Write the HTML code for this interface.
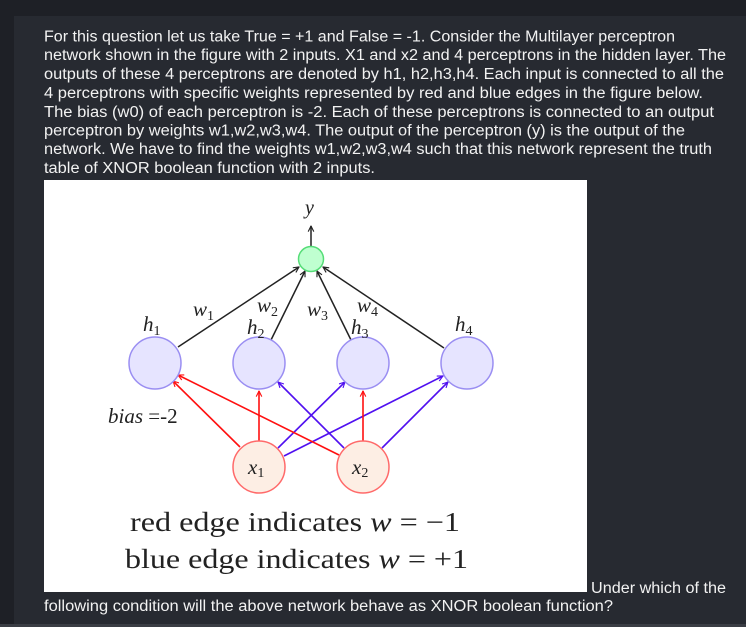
<!DOCTYPE html>
<html><head><meta charset="utf-8"><style>
html,body{margin:0;padding:0;background:#1e2026;}
svg{display:block}
.t{font-family:"Liberation Sans",sans-serif;font-size:15.5px;fill:#f2f2f2;}
.m{font-family:"Liberation Serif",serif;font-style:italic;fill:#222;}
.r{font-family:"Liberation Serif",serif;fill:#222;}
</style></head><body>
<svg width="746" height="627" viewBox="0 0 746 627" xmlns="http://www.w3.org/2000/svg">
<defs>
<marker id="ak" viewBox="0 0 10 10" refX="9" refY="5" markerWidth="7" markerHeight="7" orient="auto" markerUnits="userSpaceOnUse"><path d="M1,1 L9,5 L1,9" fill="none" stroke="#222" stroke-width="1.6"/></marker>
<marker id="ar" viewBox="0 0 10 10" refX="9" refY="5" markerWidth="7" markerHeight="7" orient="auto" markerUnits="userSpaceOnUse"><path d="M1,1 L9,5 L1,9" fill="none" stroke="#ff1010" stroke-width="1.6"/></marker>
<marker id="ab" viewBox="0 0 10 10" refX="9" refY="5" markerWidth="7" markerHeight="7" orient="auto" markerUnits="userSpaceOnUse"><path d="M1,1 L9,5 L1,9" fill="none" stroke="#5010f0" stroke-width="1.6"/></marker>
</defs>
<rect x="0" y="0" width="746" height="627" fill="#1e2026"/>
<rect x="14" y="16" width="732" height="608" fill="#272a31"/>
<rect x="0" y="624" width="746" height="3" fill="#3a3d44"/>
<g class="t">
<text x="44" y="41.5" textLength="631" lengthAdjust="spacingAndGlyphs">For this question let us take True = +1 and False = -1. Consider the Multilayer perceptron</text>
<text x="44" y="60" textLength="682" lengthAdjust="spacingAndGlyphs">network shown in the figure with 2 inputs. X1 and x2 and 4 perceptrons in the hidden layer. The</text>
<text x="44" y="79" textLength="680" lengthAdjust="spacingAndGlyphs">outputs of these 4 perceptrons are denoted by h1, h2,h3,h4. Each input is connected to all the</text>
<text x="44" y="98" textLength="659" lengthAdjust="spacingAndGlyphs">4 perceptrons with specific weights represented by red and blue edges in the figure below.</text>
<text x="44" y="117" textLength="670" lengthAdjust="spacingAndGlyphs">The bias (w0) of each perceptron is -2. Each of these perceptrons is connected to an output</text>
<text x="44" y="135.5" textLength="641" lengthAdjust="spacingAndGlyphs">perceptron by weights w1,w2,w3,w4. The output of the perceptron (y) is the output of the</text>
<text x="44" y="154" textLength="668" lengthAdjust="spacingAndGlyphs">network. We have to find the weights w1,w2,w3,w4 such that this network represent the truth</text>
<text x="44" y="173" textLength="331" lengthAdjust="spacingAndGlyphs">table of XNOR boolean function with 2 inputs.</text>
<text x="591" y="593" textLength="135" lengthAdjust="spacingAndGlyphs">Under which of the</text>
<text x="44" y="611" textLength="569" lengthAdjust="spacingAndGlyphs">following condition will the above network behave as XNOR boolean function?</text>
</g>
<rect x="44" y="180" width="543" height="412" fill="#fff"/>
<line x1="311" y1="246" x2="311" y2="226" stroke="#222" stroke-width="1.5" marker-end="url(#ak)"/>
<text class="m" x="305" y="214" font-size="20">y</text>
<g stroke="#222" stroke-width="1.5" fill="none">
<line x1="178" y1="347" x2="299" y2="267" marker-end="url(#ak)"/>
<line x1="271" y1="340" x2="305" y2="271" marker-end="url(#ak)"/>
<line x1="351" y1="340" x2="317" y2="271" marker-end="url(#ak)"/>
<line x1="444" y1="348" x2="323" y2="267" marker-end="url(#ak)"/>
</g>
<circle cx="311" cy="259" r="12.5" fill="#bfffd0" stroke="#55dd77" stroke-width="1.5"/>
<g stroke-width="1.6" fill="none">
<line x1="240" y1="447" x2="173" y2="381" stroke="#ff1010" marker-end="url(#ar)"/>
<line x1="259" y1="441" x2="259" y2="391" stroke="#ff1010" marker-end="url(#ar)"/>
<line x1="278" y1="448" x2="345" y2="382" stroke="#5010f0" marker-end="url(#ab)"/>
<line x1="284" y1="456" x2="443" y2="376" stroke="#5010f0" marker-end="url(#ab)"/>
<line x1="339" y1="455" x2="178" y2="375" stroke="#ff1010" marker-end="url(#ar)"/>
<line x1="344" y1="448" x2="278" y2="382" stroke="#5010f0" marker-end="url(#ab)"/>
<line x1="363" y1="441" x2="363" y2="391" stroke="#ff1010" marker-end="url(#ar)"/>
<line x1="382" y1="448" x2="448" y2="382" stroke="#5010f0" marker-end="url(#ab)"/>
</g>
<g fill="#e6e4ff" stroke="#9a8ef2" stroke-width="1.5">
<circle cx="155" cy="363" r="26"/>
<circle cx="259" cy="363" r="26"/>
<circle cx="363" cy="363" r="26"/>
<circle cx="467" cy="363" r="26"/>
</g>
<g fill="#fdeee4" stroke="#ff6a6a" stroke-width="1.5">
<circle cx="259" cy="467" r="26"/>
<circle cx="363" cy="467" r="26"/>
</g>
<g class="m" font-size="21">
<text x="248" y="474">x<tspan font-size="14" font-style="normal" dy="3">1</tspan></text>
<text x="352" y="474">x<tspan font-size="14" font-style="normal" dy="3">2</tspan></text>
<text x="143" y="331">h<tspan font-size="14" font-style="normal" dy="4">1</tspan></text>
<text x="247" y="334">h<tspan font-size="14" font-style="normal" dy="4">2</tspan></text>
<text x="351" y="334">h<tspan font-size="14" font-style="normal" dy="4">3</tspan></text>
<text x="455" y="331">h<tspan font-size="14" font-style="normal" dy="4">4</tspan></text>
<text x="193" y="316">w<tspan font-size="14" font-style="normal" dy="4">1</tspan></text>
<text x="257" y="312">w<tspan font-size="14" font-style="normal" dy="4">2</tspan></text>
<text x="307" y="316">w<tspan font-size="14" font-style="normal" dy="4">3</tspan></text>
<text x="357" y="312">w<tspan font-size="14" font-style="normal" dy="4">4</tspan></text>
<text x="108" y="423">bias <tspan font-style="normal">=-2</tspan></text>
</g>
<text class="r" x="130" y="531" font-size="27" textLength="330" lengthAdjust="spacingAndGlyphs">red edge indicates <tspan font-style="italic">w</tspan> = −1</text>
<text class="r" x="125" y="568" font-size="27" textLength="343" lengthAdjust="spacingAndGlyphs">blue edge indicates <tspan font-style="italic">w</tspan> = +1</text>
</svg>
</body></html>
